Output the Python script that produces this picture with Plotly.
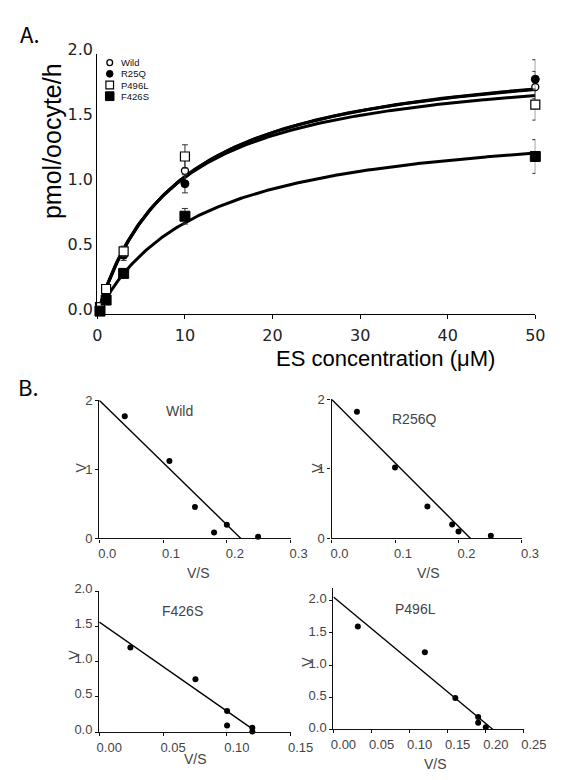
import numpy as np
import plotly.graph_objects as go

W, H = 584, 780

def px(x):
    return x / W

def py(y):
    return 1 - y / H

# ---------------- Panel A data ----------------
conc = [0.3, 1, 3, 10, 50]
wild_v = [0.04, 0.17, 0.47, 1.10, 1.745]
wild_err = [0.01, 0.02, 0.04, 0.08, 0.12]
r25q_v = [0.03, 0.15, 0.45, 1.00, 1.805]
r25q_err = [0.01, 0.02, 0.04, 0.07, 0.15]
p496l_v = [0.05, 0.19, 0.48, 1.21, 1.61]
p496l_err = [0.01, 0.02, 0.04, 0.09, 0.12]
f426s_v = [0.02, 0.105, 0.31, 0.75, 1.21]
f426s_err = [0.01, 0.02, 0.03, 0.06, 0.13]

# Michaelis-Menten fit parameters
fit_names = ["Wild", "R25Q", "P496L", "F426S"]
fit_vmax = [2.058, 2.05, 1.976, 1.529]
fit_km = [9.49, 9.40, 8.82, 11.84]

# ---------------- Panel B data (Eadie-Hofstee) ----------------
wild_vs = [0.040, 0.110, 0.150, 0.180, 0.200, 0.249]
wild_vv = [1.77, 1.12, 0.455, 0.085, 0.20, 0.024]
wild_fit_x = [0.0, 0.222]
wild_fit_y = [2.0, 0.0]

r256q_vs = [0.040, 0.100, 0.151, 0.190, 0.200, 0.251]
r256q_vv = [1.82, 1.02, 0.46, 0.20, 0.10, 0.04]
r256q_fit_x = [0.0, 0.219]
r256q_fit_y = [2.0, 0.0]

f426s_vs = [0.0244, 0.0754, 0.1002, 0.1002, 0.120, 0.120]
f426s_vv = [1.20, 0.75, 0.30, 0.093, 0.06, 0.01]
f426s_fit_x = [0.0, 0.120]
f426s_fit_y = [1.56, 0.046]

p496l_vs = [0.032, 0.120, 0.160, 0.190, 0.190, 0.200]
p496l_vv = [1.60, 1.20, 0.485, 0.19, 0.10, 0.03]
p496l_fit_x = [0.0, 0.209]
p496l_fit_y = [2.06, 0.0]

FONT = "Liberation Sans"
GRAY = "#444444"

fig = go.Figure()

# ---- Panel A: fitted curves ----
xs = np.linspace(0, 50, 400)
for vm, km in zip(fit_vmax, fit_km):
    fig.add_trace(go.Scatter(x=xs, y=vm * xs / (km + xs), mode="lines",
                             line=dict(color="black", width=3),
                             xaxis="x", yaxis="y", showlegend=False, hoverinfo="skip"))

series = [
    (wild_v, wild_err, "circle", 7, 1.3, "white"),
    (r25q_v, r25q_err, "circle", 8, 1, "black"),
    (p496l_v, p496l_err, "square", 9, 1.2, "white"),
    (f426s_v, f426s_err, "square", 10, 1, "black"),
]
for vals, err, sym, size, lw, fill in series:
    fig.add_trace(go.Scatter(
        x=conc, y=vals, mode="markers",
        error_y=dict(type="data", array=err, color="#333333", thickness=1, width=3),
        marker=dict(symbol=sym, size=size, color=fill, line=dict(color="black", width=lw)),
        xaxis="x", yaxis="y", showlegend=False, cliponaxis=False))

# ---- Panel B ----
subs = [
    ("x2", "y2", wild_vs, wild_vv, wild_fit_x, wild_fit_y),
    ("x3", "y3", r256q_vs, r256q_vv, r256q_fit_x, r256q_fit_y),
    ("x4", "y4", f426s_vs, f426s_vv, f426s_fit_x, f426s_fit_y),
    ("x5", "y5", p496l_vs, p496l_vv, p496l_fit_x, p496l_fit_y),
]
for xa, ya, vx, vy, fx, fy in subs:
    fig.add_trace(go.Scatter(x=fx, y=fy, mode="lines", line=dict(color="black", width=1.4),
                             xaxis=xa, yaxis=ya, showlegend=False, hoverinfo="skip"))
    fig.add_trace(go.Scatter(x=vx, y=vy, mode="markers",
                             marker=dict(color="black", size=6),
                             xaxis=xa, yaxis=ya, showlegend=False, cliponaxis=False))

def small_axis(domain, rng, dtick, fmt, anchor, shift=0, tickvals=None):
    d = dict(domain=domain, range=rng, anchor=anchor, showline=True, linecolor="#111111",
             linewidth=1.4, ticks="outside", ticklen=3, tickcolor="#111111",
             showgrid=False, zeroline=False,
             tickfont=dict(family=FONT, size=13, color=GRAY),
             tickformat=fmt, tick0=0)
    if dtick is not None:
        d["dtick"] = dtick
    if shift:
        d["ticklabelshift"] = shift
    if tickvals is not None:
        d["tickvals"] = tickvals
    return d

layout = dict(
    width=W, height=H, margin=dict(l=0, r=0, t=0, b=0),
    plot_bgcolor="white", paper_bgcolor="white",
    xaxis=dict(domain=[px(97), px(557)], range=[0, 50], anchor="y", showline=True,
               linecolor="black", linewidth=1.4, ticks="outside", ticklen=4,
               tickcolor="black", showgrid=False, zeroline=False, dtick=10, tick0=0,
               ticklabelstandoff=3,
               tickfont=dict(family="DejaVu Sans", size=16, color="#222222")),
    yaxis=dict(domain=[py(309), py(42)], range=[0, 2.0], anchor="x", showline=True,
               linecolor="black", linewidth=1.4, ticks="", showgrid=False,
               zeroline=False, dtick=0.5, tick0=0, tickformat=".1f",
               ticklabelshift=-4,
               tickfont=dict(family="DejaVu Sans", size=16, color="#222222")),
    xaxis2=small_axis([px(99), px(300)], [0, 0.3], 0.1, ".1f", "y2", shift=8),
    yaxis2=small_axis([py(540), py(398)], [0, 2], 1, "d", "x2"),
    xaxis3=small_axis([px(343), px(543)], [0, 0.3], 0.1, ".1f", "y3", shift=8),
    yaxis3=small_axis([py(540), py(397)], [0, 2], 1, "d", "x3"),
    xaxis4=small_axis([px(99), px(300)], [0, 0.15], 0.05, ".2f", "y4", shift=10),
    yaxis4=small_axis([py(739), py(594)], [0, 2.0], 0.5, ".1f", "x4", shift=-3),
    xaxis5=small_axis([px(345), px(545)], [0, 0.25], 0.05, ".2f", "y5", shift=10),
    yaxis5=small_axis([py(736), py(591)], [0, 2.2], None, ".1f", "x5", shift=-2,
                      tickvals=[0, 0.5, 1.0, 1.5, 2.0]),
)
fig.update_layout(**layout)

ann = []
def text(x, y, s, size, color="black", family=FONT, angle=0, xanchor="center"):
    ann.append(dict(x=px(x), y=py(y), xref="paper", yref="paper", text=s, showarrow=False,
                    font=dict(family=family, size=size, color=color), textangle=angle,
                    xanchor=xanchor, yanchor="middle", borderpad=0))

text(26, 21, "A.", 22, family="Noto Sans CJK KR")
text(25, 383, "B.", 22, family="Noto Sans CJK KR")
text(50, 132, "pmol/oocyte/h", 25, angle=-90)
text(400, 355, "ES concentration (\u03bcM)", 22)

# legend
leg_names = ["Wild", "R25Q", "P496L", "F426S"]
leg_y = [51, 62.5, 74, 85.5]
for name, yy in zip(leg_names, leg_y):
    text(121, yy, name, 9.5, color="#111111", xanchor="left")

shapes = [
    dict(type="circle", xref="paper", yref="paper", x0=px(107), x1=px(113), y0=py(54), y1=py(48),
         line=dict(color="black", width=1.3), fillcolor="white"),
    dict(type="circle", xref="paper", yref="paper", x0=px(106.5), x1=px(113.5), y0=py(66), y1=py(59),
         line=dict(color="black", width=1), fillcolor="black"),
    dict(type="rect", xref="paper", yref="paper", x0=px(106), x1=px(114), y0=py(78), y1=py(70),
         line=dict(color="black", width=1.2), fillcolor="white"),
    dict(type="rect", xref="paper", yref="paper", x0=px(105.5), x1=px(114.5), y0=py(90), y1=py(81),
         line=dict(color="black", width=1), fillcolor="black"),
]

# panel B labels
text(183, 409, "Wild", 14, color=GRAY)
text(430, 417, "R256Q", 14, color=GRAY)
text(186, 615, "F426S", 14, color=GRAY)
text(431, 612, "P496L", 14, color=GRAY)
for (x, y) in [(80, 467), (328, 467), (73, 660), (317, 667)]:
    text(x, y, "V", 14, color=GRAY, angle=-90)
for (x, y) in [(203, 575), (445, 575), (200, 767), (452, 772)]:
    text(x, y, "V/S", 14, color=GRAY)

fig.update_layout(annotations=ann, shapes=shapes)
fig.write_html("out.html", config={"displayModeBar": False},
               post_script="document.body.style.margin='0px';document.body.style.overflow='hidden';")
